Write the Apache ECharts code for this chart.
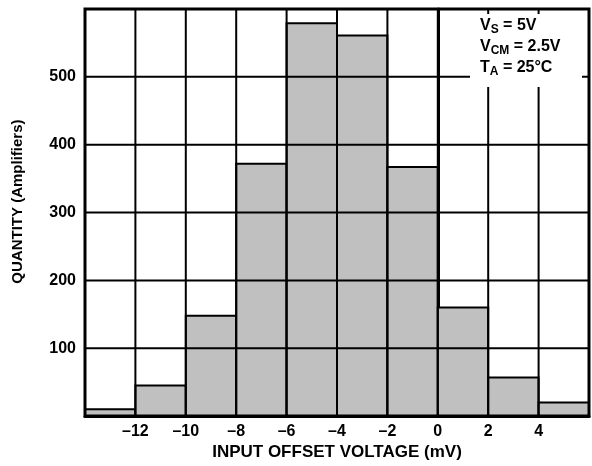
<!DOCTYPE html>
<html>
<head>
<meta charset="utf-8">
<script src="https://cdn.jsdelivr.net/npm/echarts@6/dist/echarts.min.js"></script>
<style>html,body{margin:0;padding:0;background:#fff;}#c{width:592px;height:466px;}</style>
</head>
<body>
<div id="c"></div>
<script>
// bin lower edges (mV), bin width 2 mV
var binStarts = [-14, -12, -10, -8, -6, -4, -2, 0, 2, 4];
var binWidth = 2;
var counts = [10, 45, 148, 372, 579, 561, 367, 160, 57, 20];
var xGridTicks = [-12, -10, -8, -6, -4, -2, 0, 2, 4];
var yGridTicks = [100, 200, 300, 400, 500];
var xTickHidden = [-14, 6];
var yTickHidden = [0, 600];
var X_MIN = -14, X_MAX = 6, Y_MIN = 0, Y_MAX = 600;

var chart = echarts.init(document.getElementById('c'));
var FONT = '"Liberation Sans", Arial, sans-serif';
var data = binStarts.map(function (s, i) { return [s, counts[i]]; });
// [orientation (0 = vertical, 1 = horizontal), value]
var gridData = xGridTicks.map(function (v) { return [0, v]; })
  .concat(yGridTicks.map(function (v) { return [1, v]; }));

chart.setOption({
  animation: false,
  backgroundColor: '#fff',
  grid: { left: 85, top: 9, width: 509, height: 408, show: true, borderColor: '#000', borderWidth: 3, z: 3 },
  xAxis: {
    type: 'value', min: X_MIN, max: X_MAX, interval: 2,
    name: 'INPUT OFFSET VOLTAGE (mV)', nameLocation: 'middle', nameGap: 26,
    nameTextStyle: { fontFamily: FONT, fontWeight: 'bold', fontSize: 17, color: '#000' },
    axisLine: { show: true, lineStyle: { color: '#000', width: 3 } },
    axisTick: { show: false },
    axisLabel: {
      margin: 7, fontFamily: FONT, fontWeight: 'bold', fontSize: 16, color: '#000',
      formatter: function (v) { if (xTickHidden.indexOf(v) >= 0) return ''; return String(v).replace('-', '\u2013'); }
    },
    splitLine: { show: false }
  },
  yAxis: {
    type: 'value', min: Y_MIN, max: Y_MAX, interval: 100,
    name: 'QUANTITY (Amplifiers)', nameLocation: 'middle', nameGap: 60,
    nameTextStyle: { fontFamily: FONT, fontWeight: 'bold', fontSize: 15, color: '#000', padding: [0, 0, 0, 22] },
    axisLine: { show: true, lineStyle: { color: '#000', width: 3 } },
    axisTick: { show: false },
    axisLabel: {
      margin: 9, fontFamily: FONT, fontWeight: 'bold', fontSize: 16, color: '#000',
      formatter: function (v) { return yTickHidden.indexOf(v) >= 0 ? '' : String(v); }
    },
    splitLine: { show: false }
  },
  series: [{
    type: 'custom',
    z: 1,
    data: data,
    renderItem: function (params, api) {
      var x0 = api.value(0), v = api.value(1);
      var p0 = api.coord([x0, 0]);
      var p1 = api.coord([x0 + binWidth, v]);
      return {
        type: 'rect',
        shape: { x: p0[0], y: p1[1], width: p1[0] - p0[0], height: p0[1] - p1[1] },
        style: { fill: '#c0c0c0', stroke: '#000', lineWidth: 2 }
      };
    }
  }, {
    type: 'custom',
    z: 4,
    silent: true,
    data: gridData,
    encode: { x: -1, y: -1 },
    renderItem: function (params, api) {
      var o = api.value(0), v = api.value(1), a, b;
      if (o === 0) { a = api.coord([v, Y_MIN]); b = api.coord([v, Y_MAX]); }
      else { a = api.coord([X_MIN, v]); b = api.coord([X_MAX, v]); }
      return {
        type: 'line',
        shape: { x1: a[0], y1: a[1], x2: b[0], y2: b[1] },
        style: { stroke: '#000', lineWidth: 2 }
      };
    }
  }],
  graphic: [{
    type: 'rect', z: 100,
    shape: { x: 470, y: 14, width: 112, height: 73 },
    style: { fill: '#fff' }
  }, {
    type: 'text', z: 101, left: 480, top: 17,
    style: {
      text: '{b|V}{s|S}{b| = 5V}\n{b|V}{s|CM}{b| = 2.5V}\n{b|T}{s|A}{b| = 25°C}',
      rich: {
        b: { fontFamily: FONT, fontWeight: 'bold', fontSize: 16, fill: '#000', lineHeight: 21 },
        s: { fontFamily: FONT, fontWeight: 'bold', fontSize: 12, fill: '#000', lineHeight: 21, verticalAlign: 'bottom', padding: [7, 0, 0, 0] }
      }
    }
  }]
});
</script>
</body>
</html>
